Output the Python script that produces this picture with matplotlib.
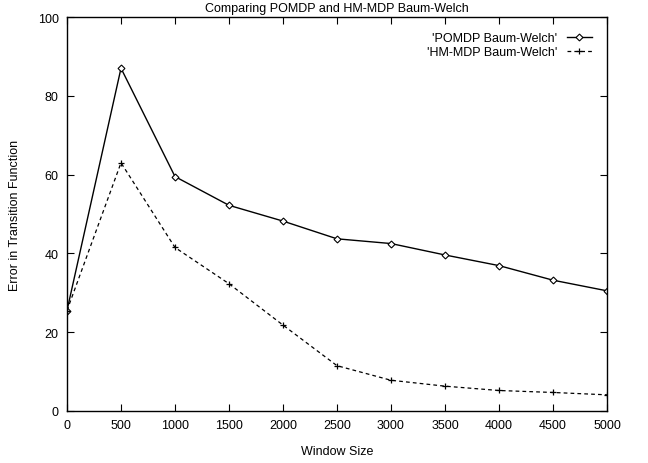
import numpy as np
import matplotlib
matplotlib.use('Agg')
import matplotlib.pyplot as plt

plt.rcParams['font.family'] = ['Liberation Sans', 'DejaVu Sans']
plt.rcParams['font.size'] = 9

window = [0, 500, 1000, 1500, 2000, 2500, 3000, 3500, 4000, 4500, 5000]
pomdp = [25.5, 87.0, 59.5, 52.2, 48.2, 43.7, 42.5, 39.6, 36.9, 33.2, 30.5]
hmmdp = [25.5, 63.0, 41.5, 32.3, 21.8, 11.5, 7.8, 6.3, 5.2, 4.7, 4.1]

fig = plt.figure(figsize=(6.48, 4.64), dpi=100)
ax = fig.add_axes([0.1034, 0.1121, 0.8333, 0.8491])

ax.plot(window, pomdp, color='black', lw=1.0, marker='D', markersize=3.5,
        markerfacecolor='white', markeredgewidth=0.8, label="'POMDP Baum-Welch'")
ax.plot(window, hmmdp, color='black', lw=0.9, ls=(0, (3, 2.5)), marker='+', markersize=5,
        markeredgewidth=0.9, label="'HM-MDP Baum-Welch'")

ax.set_xlim(0, 5000)
ax.set_ylim(0, 100)
ax.set_xticks(np.arange(0, 5001, 500))
ax.set_yticks(np.arange(0, 101, 20))
ax.tick_params(direction='in', top=True, right=True, length=5, width=0.8, pad=6)
for s in ax.spines.values():
    s.set_linewidth(1.0)

ax.set_xlabel('Window Size', labelpad=10)
ax.set_ylabel('Error in Transition Function', labelpad=12)
ax.set_title('Comparing POMDP and HM-MDP Baum-Welch', pad=4, fontsize=9)

ax.legend(loc='upper right', frameon=False, markerfirst=False, handlelength=2.0,
          borderaxespad=0.8, labelspacing=0.15, handletextpad=0.8, fontsize=9)

plt.savefig('out.png', dpi=100)
